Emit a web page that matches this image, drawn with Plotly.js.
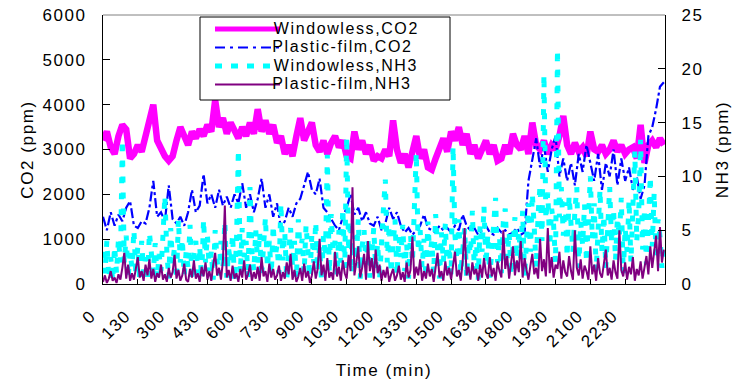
<!DOCTYPE html>
<html><head><meta charset="utf-8">
<script src="https://cdn.plot.ly/plotly-3.0.1.min.js"></script>
<style>
html,body{margin:0;padding:0;background:#fff;}
#chart{width:734px;height:385px;}
#chart text{letter-spacing:1.6px;}
</style></head><body><div id="chart"></div>
<script>
// Tick labels (clock time, every 90 minutes)
const tickLabels = ["0","130","300","430","600","730","900","1030","1200","1330","1500","1630","1800","1930","2100","2230"];

// Series names
const seriesNames = ["Windowless,CO2","Plastic-film,CO2","Windowless,NH3","Plastic-film,NH3"];

// Windowless CO2 (ppm), 10-min samples
const windowlessCO2 = [
3200,3400,3050,2900,3300,3550,3450,2800,2900,3100,
2950,3300,3700,4000,3200,3000,2850,2750,2850,3200,
3500,3300,3100,3400,3250,3450,3300,3550,3400,4100,
3500,3700,3350,3600,3400,3250,3500,3300,3600,3350,
3900,3400,3650,3350,3550,3150,3300,2900,3100,2850,
3300,3700,3200,3400,3600,3100,2950,3200,2900,3150,
3300,3050,3200,2850,2800,3400,3000,3200,2900,3100,
2750,2850,2800,3000,2850,3650,3000,2700,2900,2600,
3000,3300,2800,3000,2600,2550,2800,3000,3250,2950,
3400,3200,3500,3100,3350,2900,3100,2800,3000,3200,
2900,3100,2750,2800,3100,2900,3350,3100,3000,3300,
2900,3600,3100,3000,3200,2900,3100,3000,3300,3750,
3100,2900,3150,2950,3050,2850,3400,3000,2950,3100,
2900,3000,3200,2950,3100,2900,3000,3050,2800,3550,
2700,3100,3200,3050,3250,3100];

// Plastic-film CO2 (ppm), 10-min samples
const plasticCO2 = [
1500,1200,1600,1300,1550,1400,1700,1850,1300,1250,
1400,1350,1700,2300,1500,1600,1400,2200,1450,1350,
1500,1300,1600,2100,1600,1750,2450,1800,2000,1700,
2100,1750,1950,1700,2000,1800,2250,1700,2000,1600,
1900,2350,1700,2000,1500,1800,1250,1400,1700,1500,
1800,1900,2200,2500,2100,2000,2350,1700,1600,1450,
1300,1200,1500,1700,2000,1550,1700,1400,1600,1350,
1300,1500,1200,1350,1700,1450,1600,1300,1150,1250,
1100,1200,1300,1550,1250,1200,1150,1300,1200,1250,
1150,1300,1200,1550,1300,1200,1250,1100,1200,1300,
1150,1100,1250,1150,1200,1100,1150,1250,1100,1150,
2300,2800,3250,2600,3100,2500,3000,3300,2400,2800,
2300,2700,2200,2900,2500,3100,2700,2300,2900,2100,
2700,2400,3000,2200,2800,2300,2600,2100,2400,1900,
2200,3300,3500,3900,4400,4500];

// Windowless NH3 (ppm), 5-min samples
const windowlessNH3 = [
3,1,4,0.5,2.5,0.3,3.5,1,4.2,2,
13.4,2,4.5,0.5,3,1.5,5,0.8,3.5,0.2,
4,1,2.5,0.3,4.8,2,1,3.8,0.5,2.8,
1.2,4.5,8.2,3,0.5,5.2,1.8,3.5,0.4,6,
2,4.2,0.8,3,1.5,5.5,0.3,2.8,4,1,
3.5,0.5,6,2,4.5,1.2,3,0.4,5,2.2,
0.8,4,1.5,5.8,0.6,3.2,2,4.6,0.3,3.8,
12.5,1,5.2,2.5,4,0.5,9,3,1.2,5,
2,4.8,0.6,3.5,6.2,1.5,4,0.8,5.5,2.5,
3.6,1,7.5,2.2,4.8,0.4,3,5.2,1.6,4,
0.5,6,2.8,4.2,1,5.5,3,0.6,4.6,2,
5.8,1.2,3.5,0.3,4.5,2.5,12,1,6.5,3,
4,0.8,5,2,7,1.5,13.7,3,5.8,1,
4.5,2.2,6,0.5,3.5,5,1.8,4.2,0.6,3,
5.2,1.4,3.8,0.4,4.8,7,9.7,2,5.5,1,
3.6,6,0.8,4.4,2.5,5.5,1.2,3.8,0.5,4.6,
2,6.2,12.2,3,5,1.5,4.2,0.6,5.8,2.5,
4,1,6.5,3.2,0.5,4.8,2,5.6,1.4,3.5,
0.8,12.8,4.5,2.2,6,1,3.8,5.2,0.6,4,
2.8,6.8,1.2,4.5,0.4,5.5,3,7.2,1.8,4.6,
0.6,3.6,5.2,8,2,4.4,1,5.8,7,2.4,
4.8,0.8,3.5,6.2,1.6,5,2.4,6.8,0.6,4.2,
7.5,3,8.4,5.2,1.5,6.5,9.2,4,19.5,6,
8.5,3.5,7,5.5,2,21.8,6.2,9,4.5,7.6,
2.5,8.2,5,3,6.8,9,1.5,5.8,3.6,7.4,
2,6,10,4.2,7.5,1.2,5.5,8.8,3,6.4,
1.5,5,9,3.8,7,2.2,6.2,4.4,8,1,
5.2,3,7.8,2,9.5,12.3,4,6.6,13.4,3.2,
7,1.8,5.5,10,3.5,8.5,2.2,6,4.4,1.5,
3.8];

// Plastic-film NH3 (ppm), 5-min samples
const plasticNH3 = [
0.2,0.8,0.1,0.5,1.2,0.3,0.6,0.1,0.9,0.4,
1.5,2.9,0.5,1.8,0.3,1,0.4,1.6,2.5,0.6,
1.2,0.3,1.8,0.8,2.3,0.5,1.4,0.2,1,0.6,
1.8,0.4,0.9,0.2,1.5,0.6,1.1,2.7,0.5,1.3,
0.3,0.8,1.9,0.4,0.2,1.4,0.6,2.2,0.5,1,
0.2,1.6,0.7,2,0.4,1.2,0.3,1.8,2.9,0.8,
1.5,0.4,2.1,7.3,0.6,1.3,0.3,1.7,0.5,1,
0.2,1.4,0.6,2.2,0.4,0.9,1.8,0.3,1.1,0.5,
1.6,0.3,2.5,0.7,1.2,0.2,1.9,0.6,1.4,0.4,
0.8,1.7,0.3,1.1,0.5,2,0.9,2.8,0.4,1.3,
0.2,0.7,1.5,0.3,1.9,0.6,1.2,0.1,0.8,2.1,
0.5,1.4,4.2,0.8,1.8,0.3,2.4,0.6,1.1,0.4,
3,0.7,1.6,0.3,2.2,1,0.5,2.7,1.2,9,
0.8,2,3.5,0.6,1.5,2.8,0.4,4,1.2,2.4,
0.5,3.2,1,1.8,0.3,1.3,0.6,1.6,0.2,0.9,
1.4,0.3,0.8,1.7,0.4,1.1,0.2,2,0.6,1.3,
4.4,0.5,1.6,0.8,2.3,0.3,1.2,0.5,1.9,0.7,
1.4,0.2,1.8,2.9,0.6,1.2,0.3,2.1,0.8,1.5,
0.4,1.7,3,0.7,1.3,0.3,2.2,5.2,0.8,1.6,
0.4,2,0.9,1.4,0.3,1.8,0.6,2.4,1,0.5,
2.5,0.7,1.5,0.3,2.1,1.2,0.6,5,1.4,2.6,
0.5,1.9,3.5,0.8,2.2,1.1,4,0.6,2.4,1.3,
0.4,1.7,2.8,0.9,1.5,0.5,4.2,1.2,2.3,0.7,
5.2,1,2.5,0.6,1.8,1.4,3,0.5,2.2,1.1,
0.7,2.6,1.2,0.4,5,1.5,0.8,2.3,0.5,1.7,
1.2,0.4,3.5,0.9,1.8,0.3,2.4,1,0.6,1.9,
3.2,0.8,1.5,0.4,2.2,1.1,0.5,5,1.3,0.7,
2,0.4,1.6,0.9,2.5,0.3,1.4,0.8,2.1,0.5,
1.8,2.6,0.9,3.5,1.5,2.8,4.5,1.2,5.3,2,
3.2];

// Sample times in minutes
const time10 = windowlessCO2.map((_, i) => i * 10);
const time5 = windowlessNH3.map((_, i) => i * 5);
const tickVals = tickLabels.map((_, i) => i * 90);

const FONT = "'Liberation Sans', Arial, sans-serif";
const colors = ["#FF00FF", "#0000FF", "#00FFFF", "#800080"];
const widths = [6.5, 2.2, 5, 2];
const dashes = ["solid", "10px,3px,3px,3px", "6px,10px", "solid"];

const traces = [
  {x: time10, y: windowlessCO2, yaxis: "y"},
  {x: time10, y: plasticCO2, yaxis: "y"},
  {x: time5, y: windowlessNH3, yaxis: "y2"},
  {x: time5, y: plasticNH3, yaxis: "y2"}
].map((t, k) => Object.assign(t, {
  type: "scatter", mode: "lines", name: seriesNames[k], showlegend: false,
  line: {color: colors[k], width: widths[k], dash: dashes[k]}, hoverinfo: "skip"
}));

// Plot area in pixels: x 103..665, y 15..284
const L = 103, R = 665, T = 15, B = 284;
const px = v => (v - L) / (R - L);
const py = v => (B - v) / (B - T);

const shapes = [
  {type: "line", xref: "paper", yref: "paper", x0: 0, x1: 1, y0: 1, y1: 1, line: {color: "#808080", width: 1}},
  {type: "rect", xref: "paper", yref: "paper", x0: px(200), x1: px(450), y0: py(100), y1: py(17),
   line: {color: "#000", width: 1}, fillcolor: "#fff", layer: "above"}
];
const annotations = [];
const rowY = [28, 46.5, 65, 83.5];
const legW = [5, 2, 5, 2];
const legDash = ["solid", "10px,5px,3px,5px", "7px,9px", "solid"];
seriesNames.forEach((n, k) => {
  shapes.push({type: "line", xref: "paper", yref: "paper", x0: px(215), x1: px(280), y0: py(rowY[k] + 1), y1: py(rowY[k] + 1),
    line: {color: colors[k], width: legW[k], dash: legDash[k]}, layer: "above"});
  annotations.push({xref: "paper", yref: "paper", x: px(283), y: py(rowY[k]), xanchor: "left", yanchor: "middle",
    text: n, showarrow: false, font: {family: FONT, size: 16, color: "#000"}});
});

const layout = {
  width: 734, height: 385,
  margin: {l: L, r: 734 - R, t: T, b: 385 - B, pad: 0},
  paper_bgcolor: "#fff", plot_bgcolor: "#fff",
  font: {family: FONT, size: 17, color: "#000"},
  showlegend: false,
  xaxis: {
    range: [0, 1453], tickvals: tickVals, ticktext: tickLabels, tickangle: -45,
    ticks: "inside", ticklen: 5, tickcolor: "#000", showline: true, linecolor: "#000", linewidth: 1,
    showgrid: false, zeroline: false, ticklabelstandoff: 14, ticklabelshift: -12,
    title: {text: "Time (min)", font: {size: 17}, standoff: 18}
  },
  yaxis: {
    range: [0, 6000], dtick: 1000, ticks: "inside", ticklen: 7, tickcolor: "#000",
    showline: true, linecolor: "#000", linewidth: 1, showgrid: false, zeroline: false,
    ticklabelstandoff: 12,
    title: {text: "CO2 (ppm)", font: {size: 17}, standoff: 10}
  },
  yaxis2: {
    range: [0, 25], dtick: 5, overlaying: "y", side: "right", ticks: "inside", ticklen: 7, tickcolor: "#000",
    showline: true, linecolor: "#000", linewidth: 1, showgrid: false, zeroline: false,
    ticklabelstandoff: 12,
    title: {text: "NH3 (ppm)", font: {size: 17}, standoff: 16}
  },
  shapes: shapes,
  annotations: annotations
};

Plotly.newPlot("chart", traces, layout, {staticPlot: true, displayModeBar: false});
</script></body></html>
